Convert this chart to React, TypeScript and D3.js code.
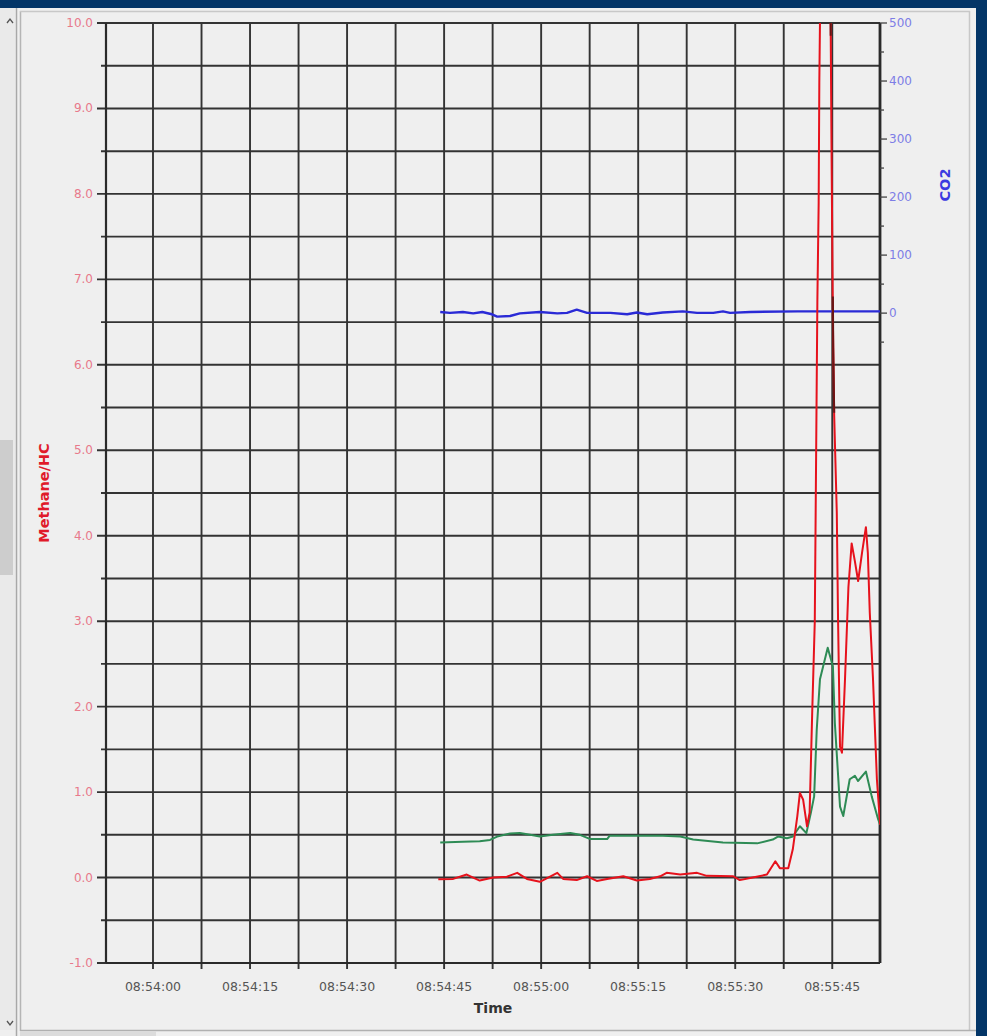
import React from "react";
import * as d3 from "d3";

// ---- data (seconds after 08:54:00) ----
const redT = [44.1, 46.4, 48.5, 50.5, 52.6, 54.7, 56.3, 57.8, 59.8, 62.5, 63.4, 65.5, 67.1, 68.6, 70.2, 72.7, 74.8, 76.8, 78.4, 79.4, 81.5, 84.1, 85.6, 89.7, 90.7, 92.7, 94.9, 96.2, 96.9, 98.2, 98.9, 99.6, 100.0, 100.5, 101.1, 101.5, 101.9, 102.3, 102.7, 102.9, 103.0, 103.1, 103.2, 104.7, 104.75, 104.9, 105.1, 105.3, 105.7, 105.9, 106.2, 106.5, 106.97, 107.5, 108.0, 108.5, 109.0, 109.6, 110.2, 110.5, 110.8, 111.3, 111.9, 112.4];
const redV = [-0.02, -0.016, 0.035, -0.035, 0.0, 0.01, 0.055, -0.016, -0.05, 0.055, -0.016, -0.03, 0.015, -0.04, -0.016, 0.015, -0.035, -0.016, 0.015, 0.055, 0.035, 0.055, 0.02, 0.015, -0.03, 0.0, 0.035, 0.19, 0.11, 0.11, 0.33, 0.72, 0.99, 0.91, 0.6, 0.76, 1.93, 3.0, 6.76, 7.9, 9.3, 10.0, 11.5, 11.5, 10.0, 8.4, 6.5, 5.4, 4.27, 3.0, 1.53, 1.46, 2.32, 3.4, 3.91, 3.7, 3.47, 3.8, 4.1, 3.8, 3.1, 2.32, 1.15, 0.62];

const greenT = [44.4, 47.9, 50.5, 52.1, 53.2, 55.2, 56.7, 58.3, 59.8, 61.8, 64.5, 66.0, 67.6, 70.2, 70.6, 73.7, 78.8, 81.5, 83.5, 88.1, 93.4, 95.8, 96.6, 98.0, 98.9, 100.0, 101.0, 101.7, 102.2, 102.6, 103.1, 104.3, 105.1, 105.4, 106.2, 106.7, 107.7, 108.5, 108.98, 110.2, 111.1, 112.1, 112.4];
const greenV = [0.41, 0.42, 0.425, 0.44, 0.48, 0.515, 0.52, 0.5, 0.48, 0.5, 0.52, 0.5, 0.45, 0.45, 0.49, 0.49, 0.49, 0.48, 0.445, 0.41, 0.4, 0.445, 0.48, 0.46, 0.48, 0.6, 0.52, 0.76, 0.95, 1.73, 2.32, 2.69, 2.47, 1.81, 0.83, 0.72, 1.15, 1.19, 1.13, 1.24, 0.95, 0.68, 0.62];

const darkT = [104.7, 104.76, 105.05, 105.1, 105.15, 105.3];
const darkV = [11.0, 9.85, NaN, 6.8, 6.2, 5.44];

const co2T = [44.4, 45.9, 47.9, 49.5, 50.9, 52.4, 53.2, 55.2, 56.7, 59.8, 62.5, 64.0, 65.5, 67.1, 70.7, 73.3, 74.8, 76.4, 78.8, 81.9, 84.1, 86.6, 88.1, 89.2, 92.3, 99.6, 112.4];
const co2V = [2, 0.5, 2, -0.5, 2, -2, -6, -5, -0.5, 2, -0.5, 0.5, 6, 0.5, 0.5, -2, 1, -2, 1, 3, 0.5, 0.5, 3, 0.5, 2, 3, 3];

const xTickSeconds = [0, 15, 30, 45, 60, 75, 90, 105];
const xGridSeconds = [0, 7.5, 15, 22.5, 30, 37.5, 45, 52.5, 60, 67.5, 75, 82.5, 90, 97.5, 105];
const yTicks = [-1, 0, 1, 2, 3, 4, 5, 6, 7, 8, 9, 10];
const yMinorTicks = [-0.5, 0.5, 1.5, 2.5, 3.5, 4.5, 5.5, 6.5, 7.5, 8.5, 9.5];
const co2Ticks = [0, 100, 200, 300, 400, 500];
const co2MinorTicks = [-50, 50, 150, 250, 350, 450];

const base = new Date(2020, 0, 1, 8, 54, 0).getTime();
const toDate = (s: number) => new Date(base + s * 1000);

const W = 987, H = 1036;
const L = 106, R = 880, T = 23, B = 963;

const x = d3.scaleTime().domain([toDate(-7.265), toDate(112.38)]).range([L, R]);
const y = d3.scaleLinear().domain([-1, 10]).range([B, T]);
const yc = d3.scaleLinear().domain([-1120, 500]).range([B, T]);
const fmt = d3.timeFormat("%H:%M:%S");

type P = { t: number; v: number };
const zip = (ts: number[], vs: number[]): P[] => ts.map((t, i) => ({ t, v: vs[i] }));

const lineL = d3.line<P>().defined((d) => !isNaN(d.v)).x((d) => x(toDate(d.t))).y((d) => y(d.v));
const lineC = d3.line<P>().x((d) => x(toDate(d.t))).y((d) => yc(d.v));

const FONT = "'DejaVu Sans', Verdana, sans-serif";
const GRID = "#333";

export default function App() {
  return (
    <svg width={W} height={H} style={{ position: "absolute", left: 0, top: 0 }} fontFamily={FONT}>
      <defs>
        <clipPath id="plot">
          <rect x={L} y={T} width={R - L} height={B - T} />
        </clipPath>
      </defs>
      <rect x={0} y={0} width={W} height={H} fill="#033567" />
      <rect x={0} y={8} width={976} height={H - 8} fill="#efefef" />
      {/* left scrollbar */}
      <rect x={0} y={8} width={15} height={1022} fill="#eaeaea" />
      <rect x={0} y={440} width={13} height={135} fill="#cdcdcd" />
      <path d="M7,23 L10,19 L13,23" fill="none" stroke="#555" strokeWidth={1.3} />
      <path d="M7,1021 L10,1025 L13,1021" fill="none" stroke="#555" strokeWidth={1.3} />
      <line x1={16.5} x2={16.5} y1={8} y2={1036} stroke="#a8a8a8" strokeWidth={1.5} />
      <line x1={20.5} x2={20.5} y1={11} y2={1031} stroke="#b5b5b5" strokeWidth={1.5} />
      <line x1={20} x2={970} y1={11.5} y2={11.5} stroke="#c8c8c8" strokeWidth={1.5} />
      <line x1={969.5} x2={969.5} y1={11} y2={1031} stroke="#c8c8c8" strokeWidth={1.5} />
      <line x1={20} x2={976} y1={1030.5} y2={1030.5} stroke="#b0b0b0" strokeWidth={1.5} />
      <rect x={20} y={1031} width={136} height={5} fill="#dcdcdc" />

      {/* grid */}
      {xGridSeconds.map((s) => (
        <line key={"vg" + s} x1={x(toDate(s))} x2={x(toDate(s))} y1={T} y2={B + 6} stroke={GRID} strokeWidth={1.9} />
      ))}
      {yTicks.map((v) => (
        <line key={"hg" + v} x1={97} x2={R} y1={y(v)} y2={y(v)} stroke={GRID} strokeWidth={1.9} />
      ))}
      {yMinorTicks.map((v) => (
        <line key={"hm" + v} x1={101} x2={R} y1={y(v)} y2={y(v)} stroke={GRID} strokeWidth={1.9} />
      ))}
      {/* axes */}
      <line x1={L} x2={L} y1={T} y2={B} stroke="#2a2a2a" strokeWidth={2.2} />
      <line x1={R} x2={R} y1={T} y2={B} stroke="#2a2a2a" strokeWidth={2.8} />
      <line x1={L} x2={R} y1={B} y2={B} stroke="#2a2a2a" strokeWidth={2.2} />
      {co2Ticks.map((v) => (
        <line key={"ct" + v} x1={R} x2={R + 7} y1={yc(v)} y2={yc(v)} stroke="#444" strokeWidth={1.3} />
      ))}
      {co2MinorTicks.map((v) => (
        <line key={"cm" + v} x1={R} x2={R + 4} y1={yc(v)} y2={yc(v)} stroke="#444" strokeWidth={1.3} />
      ))}

      {/* labels */}
      {yTicks.map((v) => (
        <text key={"yl" + v} x={93} y={y(v) + 4} textAnchor="end" fontSize={12} fill="#e8798b">
          {v.toFixed(1)}
        </text>
      ))}
      {co2Ticks.map((v) => (
        <text key={"cl" + v} x={889} y={yc(v) + 4} fontSize={12} fill="#7d7de6">
          {v}
        </text>
      ))}
      {xTickSeconds.map((s) => (
        <text key={"xl" + s} x={x(toDate(s))} y={991} textAnchor="middle" fontSize={12.5} fill="#555">
          {fmt(toDate(s))}
        </text>
      ))}
      <text x={493} y={1013} textAnchor="middle" fontSize={14} fontWeight="bold" fill="#333">Time</text>
      <text transform="translate(49,493) rotate(-90)" textAnchor="middle" fontSize={14.5} fontWeight="bold" fill="#e01a2a">Methane/HC</text>
      <text transform="translate(950,185) rotate(-90)" textAnchor="middle" fontSize={14.5} fontWeight="bold" fill="#3b3be0">CO2</text>

      {/* series */}
      <g clipPath="url(#plot)" fill="none" strokeLinejoin="round">
        <path d={lineC(zip(co2T, co2V)) || ""} stroke="#2a2ad6" strokeWidth={2.4} />
        <path d={lineL(zip(greenT, greenV)) || ""} stroke="#2e8b55" strokeWidth={2} />
        <path d={lineL(zip(redT, redV)) || ""} stroke="#e6121c" strokeWidth={2} />
        <path d={lineL(zip(darkT, darkV)) || ""} stroke="#6a1414" strokeWidth={2} />
      </g>
    </svg>
  );
}
